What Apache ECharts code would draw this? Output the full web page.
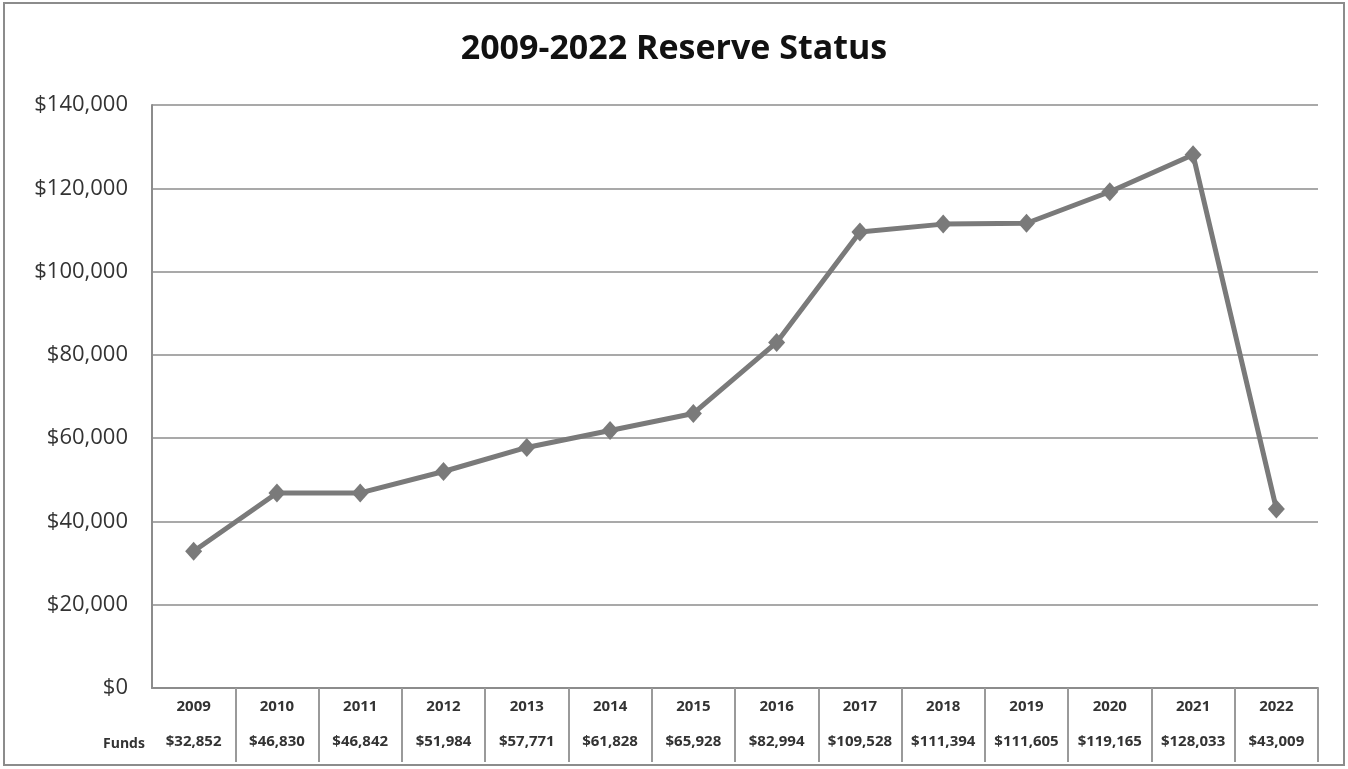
<!DOCTYPE html>
<html>
<head>
<meta charset="utf-8">
<script src="https://cdn.jsdelivr.net/npm/echarts@6/dist/echarts.min.js"></script>
<style>
  html, body { margin: 0; padding: 0; background: #fff; }
  #main { width: 1348px; height: 769px; }
</style>
</head>
<body>
<div id="main"></div>
<script>
  var years = ['2009', '2010', '2011', '2012', '2013', '2014', '2015', '2016', '2017', '2018', '2019', '2020', '2021', '2022'];
  var funds = [32852, 46830, 46842, 51984, 57771, 61828, 65928, 82994, 109528, 111394, 111605, 119165, 128033, 43009];

  function money(v) {
    return '$' + String(v).replace(/\B(?=(\d{3})+(?!\d))/g, ',');
  }

  var myChart = echarts.init(document.getElementById('main'));
  var option = {
    backgroundColor: '#fff',
    title: [{
      text: '2009-2022 Reserve Status',
      left: 'center',
      top: 27,
      textStyle: { fontFamily: 'Open Sans', fontWeight: 'bold', fontSize: 34, color: '#111' }
    }, {
      text: 'Funds',
      left: 98,
      top: 732,
      textStyle: { fontFamily: 'Open Sans', fontWeight: 'bold', fontSize: 14, color: '#333' }
    }],
    graphic: [{
      type: 'rect',
      shape: { x: 4, y: 3, width: 1340, height: 762 },
      style: { fill: 'none', stroke: '#8c8c8c', lineWidth: 2 }
    }],
    grid: { left: 152, right: 30, top: 105, bottom: 81 },
    xAxis: {
      type: 'category',
      data: years,
      boundaryGap: true,
      axisLine: { lineStyle: { color: '#8c8c8c', width: 2 } },
      axisTick: {
        show: true,
        length: 74,
        interval: function (index) { return index > 0; },
        lineStyle: { color: '#9a9a9a', width: 2 }
      },
      axisLabel: {
        margin: 1,
        interval: 0,
        formatter: function (value, idx) {
          return '{y|' + value + '}\n{f|' + money(funds[idx]) + '}';
        },
        rich: {
          y: { fontFamily: 'Open Sans', fontWeight: 'bold', fontSize: 15, color: '#333', lineHeight: 35 },
          f: { fontFamily: 'Open Sans', fontWeight: 'bold', fontSize: 15, color: '#333', lineHeight: 35 }
        }
      }
    },
    yAxis: {
      type: 'value',
      min: 0,
      max: 140000,
      interval: 20000,
      axisLine: { show: true, lineStyle: { color: '#8c8c8c', width: 2 } },
      axisTick: { show: false },
      splitLine: { lineStyle: { color: '#8c8c8c', width: 1.5 } },
      axisLabel: {
        margin: 24,
        fontFamily: 'Open Sans',
        fontSize: 22,
        color: '#333',
        formatter: function (v) { return money(v); }
      }
    },
    series: [{
      type: 'line',
      data: funds,
      symbol: 'diamond',
      symbolSize: [17, 19],
      lineStyle: { color: '#7a7a7a', width: 5 },
      itemStyle: { color: '#7a7a7a' },
      animation: false
    }]
  };
  myChart.setOption(option);
</script>
</body>
</html>
